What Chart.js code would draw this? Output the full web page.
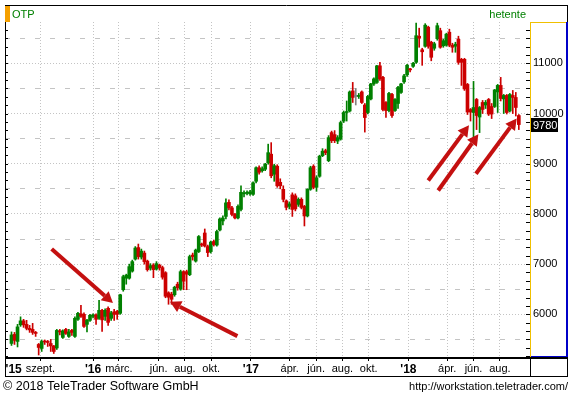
<!DOCTYPE html>
<html>
<head>
<meta charset="utf-8">
<script src="https://cdn.jsdelivr.net/npm/chart.js@4.4.1/dist/chart.umd.min.js"></script>
<style>
  html, body { margin: 0; padding: 0; background: #fff; }
  canvas { display: block; }
</style>
</head>
<body>
<canvas id="otpChart" width="574" height="394"></canvas>
<script>
// weekly candles, first one is the week of 2015-06-26
const firstWeek = "2015-06-26";

const opens = [
  5420, 5600, 5460, 5790, 5870, 5800, 5720, 5700, 5640, 5400,
  5320, 5470, 5460, 5420, 5370, 5330, 5660, 5540, 5700, 5560,
  5680, 5560, 5900, 6010, 6000, 5800, 5880, 5960, 5990, 5920,
  6080, 5960, 6120, 5920, 6050, 6060, 6020, 6490, 6720, 6720,
  6860, 7100, 7330, 7140, 7220, 7060, 6920, 6980, 6900, 6980,
  6930, 6830, 6430, 6400, 6390, 6600, 6500, 6850, 6850, 6790,
  7180, 7060, 7250, 7400, 7620, 7350, 7250, 7450, 7380, 7680,
  7860, 7950, 8230, 8120, 7990, 7920, 8090, 8400, 8410, 8400,
  8390, 8650, 8920, 8860, 8890, 9020, 9190, 8790, 8950, 8630,
  8490, 8260, 8150, 8380, 8360, 8190, 8290, 8150, 7960, 8490,
  8950, 8530, 8750, 9160, 9260, 9060, 9620, 9580, 9450, 9490,
  9850, 10020, 10050, 10450, 10340, 10340, 10430, 10170, 10020, 10290,
  10590, 10620, 10950, 10720, 10220, 10060, 10380, 10060, 10200, 10420,
  10630, 10770, 10880, 10940, 11020, 11540, 11270, 11340, 11720, 11420,
  11300, 11490, 11650, 11350, 11360, 11620, 11360, 11340, 11480, 11080,
  11080, 10580, 10080, 10020, 10280, 9930, 10220, 10170, 10280, 10140,
  10140, 10430, 10560, 10290, 10360, 10050, 10360, 10320, 9960
];
const highs = [
  5650, 5640, 5800, 5950, 5900, 5880, 5780, 5820, 5660, 5420,
  5490, 5490, 5480, 5500, 5380, 5700, 5700, 5690, 5720, 5700,
  5700, 5950, 6040, 6180, 6030, 5900, 6000, 6010, 6010, 6280,
  6100, 6110, 6150, 6060, 6100, 6080, 6400, 6780, 6800, 7000,
  7080, 7350, 7400, 7300, 7260, 7080, 7010, 7010, 7050, 7000,
  6960, 6850, 6450, 6440, 6560, 6640, 6880, 6870, 6880, 7180,
  7220, 7300, 7570, 7420, 7700, 7380, 7460, 7480, 7680, 7920,
  7960, 8300, 8280, 8150, 8010, 8180, 8560, 8460, 8460, 8470,
  8640, 8940, 8960, 8940, 9010, 9390, 9420, 8990, 8980, 8700,
  8560, 8280, 8240, 8420, 8400, 8320, 8320, 8170, 8500, 8950,
  8980, 8760, 9170, 9300, 9290, 9560, 9650, 9660, 9560, 9850,
  10050, 10250, 10450, 10620, 10500, 10400, 10450, 10200, 10360, 10600,
  10710, 10960, 11020, 10740, 10240, 10420, 10400, 10300, 10540, 10600,
  10780, 10980, 10900, 11020, 11800, 11700, 11300, 11790, 11740, 11440,
  11420, 11800, 11700, 11480, 11600, 11680, 11400, 11420, 11540, 11100,
  11100, 10600, 10100, 10640, 10300, 10140, 10260, 10260, 10300, 10200,
  10480, 10580, 10720, 10380, 10380, 10400, 10460, 10420, 9980
];
const lows = [
  5380, 5400, 5350, 5760, 5740, 5690, 5640, 5600, 5560, 5190,
  5260, 5400, 5360, 5260, 5220, 5300, 5590, 5520, 5600, 5540,
  5580, 5540, 5880, 5940, 5740, 5650, 5860, 5930, 5800, 5900,
  5660, 5880, 5780, 5880, 5880, 5900, 6000, 6460, 6600, 6700,
  6840, 7080, 7100, 7100, 7000, 6860, 6880, 6730, 6880, 6880,
  6700, 6330, 6200, 6200, 6360, 6480, 6480, 6490, 6490, 6770,
  7080, 7040, 7230, 7350, 7340, 7150, 7220, 7360, 7360, 7660,
  7780, 7900, 8080, 7960, 7900, 7900, 8060, 8340, 8380, 8370,
  8370, 8620, 8790, 8830, 8860, 8990, 8720, 8650, 8530, 8500,
  8240, 8080, 8100, 7950, 8060, 8150, 8100, 7760, 7940, 8470,
  8500, 8450, 8730, 9140, 9180, 9040, 9420, 9420, 9400, 9470,
  9820, 9850, 10030, 10220, 10170, 10300, 10200, 9630, 9990, 10270,
  10560, 10600, 10660, 10050, 9920, 10030, 9920, 10040, 10100, 10400,
  10600, 10740, 10830, 10920, 11000, 11320, 10960, 11320, 11300, 11050,
  11260, 11460, 11300, 11320, 11340, 11330, 11220, 11220, 10980, 10560,
  10460, 9980, 9850, 9520, 9680, 9620, 10000, 10100, 9960, 9900,
  10120, 10020, 10250, 10000, 9990, 10030, 10000, 9950, 9680
];
const closes = [
  5590, 5480, 5750, 5870, 5790, 5720, 5690, 5640, 5620, 5340,
  5460, 5450, 5440, 5370, 5260, 5680, 5650, 5670, 5620, 5650,
  5640, 5920, 6020, 5960, 5760, 5880, 5980, 5990, 5900, 6080,
  5890, 6080, 5840, 6030, 6000, 6000, 6390, 6750, 6780, 6950,
  7050, 7320, 7150, 7260, 7050, 6890, 6970, 6890, 7010, 6930,
  6740, 6360, 6340, 6300, 6540, 6530, 6850, 6660, 6800, 7150,
  7150, 7280, 7550, 7380, 7360, 7230, 7440, 7390, 7650, 7900,
  7920, 8220, 8120, 7990, 7920, 8150, 8430, 8420, 8430, 8440,
  8620, 8920, 8830, 8900, 8990, 9220, 8760, 8960, 8560, 8560,
  8290, 8130, 8200, 8090, 8100, 8290, 8130, 7960, 8490, 8920,
  8530, 8720, 9150, 9250, 9220, 9520, 9460, 9460, 9520, 9820,
  10020, 10040, 10430, 10320, 10340, 10360, 10220, 9920, 10340, 10590,
  10690, 10950, 10690, 10080, 10060, 10400, 9960, 10280, 10520, 10590,
  10750, 10960, 10870, 11000, 11550, 11500, 11230, 11760, 11340, 11120,
  11390, 11750, 11320, 11450, 11580, 11360, 11320, 11380, 11020, 11020,
  10490, 10030, 10030, 10120, 9960, 10120, 10080, 10220, 9990, 9990,
  10470, 10560, 10300, 10360, 10020, 10380, 10320, 10120, 9780
];

// x axis: month starts, year labels in bold
const tickDates = [
  "2015-07-01", "2015-09-01", "2016-01-01", "2016-03-01", "2016-06-01", "2016-08-01",
  "2016-10-01", "2017-01-01", "2017-04-01", "2017-06-01", "2017-08-01", "2017-10-01",
  "2018-01-01", "2018-04-01", "2018-06-01", "2018-08-01"
];
const tickLabels = [
  "'15", "szept.", "'16", "márc.", "jún.", "aug.", "okt.", "'17",
  "ápr.", "jún.", "aug.", "okt.", "'18", "ápr.", "jún.", "aug."
];
const priceTicks = [5500, 6000, 6500, 7000, 7500, 8000, 8500, 9000, 9500, 10000, 10500, 11000, 11500];

// hand-drawn arrows: [week, price] of tail and tip
const arrowFrom = [[13.3, 7300], [74.8, 5566], [138.0, 8666], [141.3, 8466], [153.8, 8800]];
const arrowTo = [[33.6, 6226], [52.5, 6252], [151.5, 9766], [154.6, 9586], [167.3, 9900]];

const WEEK = 7 * 24 * 3600 * 1000;
const weekOf = d => (Date.parse(d) - Date.parse(firstWeek)) / WEEK;
const tickWeeks = tickDates.map(weekOf);

const FONT = "'Liberation Sans', Arial, sans-serif";
const UP = "#008000";
const DOWN = "#cc0000";
const FLAT = "#808080";
const colors = closes.map((c, i) => c > opens[i] ? UP : c < opens[i] ? DOWN : FLAT);

const framePlugin = {
  id: "frame",
  beforeDraw(chart) {
    const ctx = chart.ctx;
    ctx.save();
    ctx.fillStyle = "#fff";
    ctx.fillRect(0, 0, chart.width, chart.height);
    ctx.restore();
  },
  afterDatasetsDraw(chart) {
    const { ctx, scales: { x, y } } = chart;
    ctx.save();
    ctx.strokeStyle = "#c41010";
    ctx.fillStyle = "#c41010";
    ctx.lineWidth = 4;
    arrowFrom.forEach((f, k) => {
      const x1 = x.getPixelForValue(f[0]), y1 = y.getPixelForValue(f[1]);
      const x2 = x.getPixelForValue(arrowTo[k][0]), y2 = y.getPixelForValue(arrowTo[k][1]);
      const ang = Math.atan2(y2 - y1, x2 - x1);
      const bx = x2 - 11 * Math.cos(ang), by = y2 - 11 * Math.sin(ang);
      ctx.beginPath();
      ctx.moveTo(x1, y1);
      ctx.lineTo(bx, by);
      ctx.stroke();
      ctx.beginPath();
      ctx.moveTo(x2, y2);
      ctx.lineTo(bx + 6 * Math.sin(ang), by - 6 * Math.cos(ang));
      ctx.lineTo(bx - 6 * Math.sin(ang), by + 6 * Math.cos(ang));
      ctx.closePath();
      ctx.fill();
    });
    ctx.restore();
  },
  afterDraw(chart) {
    const { ctx, chartArea: a, scales: { y } } = chart;
    ctx.save();

    // small inner ticks on both plot edges
    ctx.strokeStyle = "#000";
    ctx.lineWidth = 1;
    ctx.beginPath();
    for (let k = -12; k < 48; k++) {
      const v = 6000 + k * 1000 / 6;
      if (v < y.min || v > y.max) continue;
      const py = Math.round(y.getPixelForValue(v)) + 0.5;
      ctx.moveTo(a.left, py); ctx.lineTo(a.left + 3, py);
      ctx.moveTo(a.right - 4, py); ctx.lineTo(a.right, py);
    }
    ctx.stroke();

    // outer frame
    ctx.beginPath();
    ctx.moveTo(5, 5.5); ctx.lineTo(568, 5.5);
    ctx.moveTo(5.5, 5); ctx.lineTo(5.5, 377);
    ctx.moveTo(567.5, 5); ctx.lineTo(567.5, 377);
    ctx.moveTo(5, 376.5); ctx.lineTo(568, 376.5);
    ctx.moveTo(a.right + 0.5, a.bottom); ctx.lineTo(a.right + 0.5, 377);
    ctx.stroke();
    ctx.fillStyle = "#000";
    ctx.fillRect(5, a.bottom, 563, 2);

    // price axis panel
    ctx.fillStyle = "#f0c000";
    ctx.fillRect(a.right, a.top, 1, a.bottom - a.top);
    ctx.fillRect(a.right, a.top, 37, 1);
    ctx.fillStyle = "#0000c8";
    ctx.fillRect(566, a.top, 2, a.bottom - a.top);
    ctx.fillRect(a.right + 1, a.bottom - 1, 37, 1);

    // header
    ctx.fillStyle = "#f5a000";
    ctx.fillRect(5, 6, 5, 16);
    ctx.font = "11px " + FONT;
    ctx.fillStyle = UP;
    ctx.textBaseline = "alphabetic";
    ctx.textAlign = "left";
    ctx.fillText("OTP", 12, 18);
    ctx.textAlign = "right";
    ctx.fillText("hetente", 526, 18);

    // last price box
    const last = closes[closes.length - 1];
    const py = Math.round(y.getPixelForValue(last));
    ctx.fillStyle = "#000";
    ctx.fillRect(a.right + 1, py - 7, 27, 14);
    ctx.fillStyle = "#fff";
    ctx.textAlign = "left";
    ctx.textBaseline = "middle";
    ctx.fillText(String(last), a.right + 3, py + 0.5);

    // footer
    ctx.fillStyle = "#fff";
    ctx.fillRect(0, 377, 204, 17);
    ctx.fillStyle = "#000";
    ctx.textBaseline = "alphabetic";
    ctx.font = "12.5px " + FONT;
    ctx.fillText("© 2018 TeleTrader Software GmbH", 3, 390);
    ctx.font = "11px " + FONT;
    ctx.textAlign = "right";
    ctx.fillText("http://workstation.teletrader.com/", 568, 390);
    ctx.restore();
  }
};

new Chart(document.getElementById("otpChart"), {
  type: "bar",
  data: {
    datasets: [
      {
        label: "range",
        data: closes.map((c, i) => ({ x: i, y: [lows[i], highs[i]] })),
        backgroundColor: colors,
        barThickness: 1,
        grouped: false
      },
      {
        label: "body",
        data: closes.map((c, i) => ({ x: i, y: [opens[i], c] })),
        backgroundColor: colors,
        barThickness: 3,
        minBarLength: 1,
        grouped: false
      }
    ]
  },
  options: {
    responsive: false,
    devicePixelRatio: 1,
    animation: false,
    layout: { padding: { left: 5, top: 22, right: 6, bottom: 17 } },
    plugins: { legend: { display: false }, tooltip: { enabled: false } },
    scales: {
      x: {
        type: "linear",
        offset: false,
        min: -2.15,
        max: 171.7,
        afterBuildTicks: s => { s.ticks = tickWeeks.map(v => ({ value: v })); },
        afterFit: s => { s.height = 20; },
        ticks: {
          autoSkip: false,
          maxRotation: 0,
          padding: 1,
          color: "#000",
          callback: (v, i) => tickLabels[i],
          font: c => tickLabels[c.index] && tickLabels[c.index][0] === "'"
            ? { family: FONT, size: 12, weight: "bold" }
            : { family: FONT, size: 11 }
        },
        grid: {
          offset: false,
          color: c => c.index === 0 ? "rgba(0,0,0,0)" : "#c4c4c4",
          tickColor: c => c.index === 0 ? "rgba(0,0,0,0)" : "#000",
          tickLength: 4
        },
        border: { display: false, dash: [1, 2] }
      },
      y: {
        position: "right",
        min: 5150,
        max: 11823,
        afterBuildTicks: s => { s.ticks = priceTicks.map(v => ({ value: v })); },
        afterFit: s => { s.width = 38; },
        ticks: {
          padding: 3,
          color: "#000",
          font: { family: FONT, size: 11 },
          callback: v => v % 1000 === 0 ? String(v) : ""
        },
        grid: { color: "#c4c4c4", drawTicks: false },
        border: { display: false, dash: c => c.tick && c.tick.value % 1000 === 0 ? [1, 2] : [5, 10] }
      }
    }
  },
  plugins: [framePlugin]
});
</script>
</body>
</html>
